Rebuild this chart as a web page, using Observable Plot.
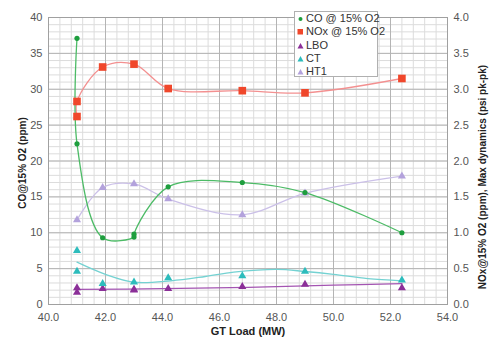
<!DOCTYPE html>
<html>
<head>
<meta charset="utf-8">
<script src="https://cdn.jsdelivr.net/npm/d3@7"></script>
<script src="https://cdn.jsdelivr.net/npm/@observablehq/plot@0.6"></script>
<style>
  html, body { margin: 0; padding: 0; background: #fff; }
  #wrap { position: relative; width: 489px; height: 341px; font-family: "Liberation Sans", Arial, sans-serif; }
  #legend { position: absolute; left: 294px; top: 11px; width: 84px; height: 66px; background: #fff;
            border: 1px solid #b0b0b0; box-sizing: border-box; font-size: 11px; color: #333; }
  #legend .item { position: absolute; left: 2px; height: 13px; line-height: 13px; white-space: nowrap; }
  #legend svg { vertical-align: middle; margin-right: 2px; }
</style>
</head>
<body>
<div id="wrap"></div>
<script>
// ---- data ----
const coX   = [41.0, 41.0, 41.9, 43.0, 43.0, 44.2, 46.8, 49.0, 52.4];
const coY   = [37.1, 22.4, 9.3, 9.4, 9.8, 16.4, 17.0, 15.6, 10.0];          // ppm (left axis)

const noxX  = [41.0, 41.0, 41.9, 43.0, 44.2, 46.8, 49.0, 52.4];
const noxY  = [2.62, 2.83, 3.31, 3.35, 3.01, 2.98, 2.95, 3.15];              // right axis units

const ht1X  = [41.0, 41.9, 43.0, 44.2, 46.8, 49.0, 52.4];
const ht1Y  = [1.18, 1.63, 1.68, 1.47, 1.25, 1.55, 1.79];

const ctX   = [41.0, 41.0, 41.9, 43.0, 44.2, 46.8, 49.0, 52.4];
const ctY   = [0.75, 0.46, 0.29, 0.31, 0.37, 0.40, 0.46, 0.34];
const ctTrendX = [41.0, 42.0, 43.0, 44.3, 45.5, 46.5, 48.0, 49.0, 50.0, 51.2, 52.4];
const ctTrendY = [0.59, 0.42, 0.31, 0.33, 0.39, 0.45, 0.49, 0.46, 0.42, 0.36, 0.33];

const lboX  = [41.0, 41.0, 41.9, 43.0, 43.0, 44.2, 46.8, 49.0, 52.4];
const lboY  = [0.23, 0.17, 0.22, 0.21, 0.20, 0.22, 0.25, 0.28, 0.23];
const lboTrendX = [41.0, 44.0, 47.0, 50.0, 52.4];
const lboTrendY = [0.21, 0.22, 0.24, 0.27, 0.29];

const xTicks = [40, 42, 44, 46, 48, 50, 52, 54];
const leftTicks = [0, 5, 10, 15, 20, 25, 30, 35, 40];
const rightTicks = [0, 0.5, 1.0, 1.5, 2.0, 2.5, 3.0, 3.5, 4.0];

const seriesNames = ["CO @ 15% O2", "NOx @ 15% O2", "LBO", "CT", "HT1"];
const colors = {
  co: "#1e9e3e", coLine: "#4cbb66",
  nox: "#f0472b", noxLine: "#f39090",
  lbo: "#8b2f98", lboLine: "#a455b2",
  ct: "#2dbcbc", ctLine: "#74d2d2",
  ht1: "#b3a2dc", ht1Line: "#cbc0e8"
};

// build tables
const pts = (xs, ys) => xs.map((x, i) => ({x, y: ys[i]}));
const co = pts(coX, coY), nox = pts(noxX, noxY), ht1 = pts(ht1X, ht1Y),
      ct = pts(ctX, ctY), ctT = pts(ctTrendX, ctTrendY),
      lbo = pts(lboX, lboY), lboT = pts(lboTrendX, lboTrendY);
const R = 10; // right axis (0-4) mapped onto left axis (0-40)
const yR = d => d.y * R;

const minorX = d3.range(40, 54.001, 0.4);
const minorY = d3.range(0, 40.001, 1);

const chart = Plot.plot({
  width: 489, height: 341,
  marginLeft: 48, marginRight: 42, marginTop: 17, marginBottom: 37,
  style: { fontFamily: "Liberation Sans, Arial, sans-serif", fontSize: "11px", color: "#555", background: "transparent" },
  x: { domain: [40, 54] },
  y: { domain: [0, 40] },
  marks: [
    Plot.gridX(minorX, { stroke: "#dcdcdc", strokeOpacity: 1 }),
    Plot.gridY(minorY, { stroke: "#dcdcdc", strokeOpacity: 1 }),
    Plot.gridX(xTicks, { stroke: "#b4b4b4", strokeOpacity: 1 }),
    Plot.gridY(leftTicks, { stroke: "#b4b4b4", strokeOpacity: 1 }),
    Plot.frame({ stroke: "#a0a0a0" }),
    Plot.axisX({ ticks: xTicks, tickSize: 0, tickPadding: 9, tickFormat: d => d.toFixed(1), label: null }),
    Plot.axisY({ anchor: "left", ticks: leftTicks, tickSize: 0, tickPadding: 6, label: null }),
    Plot.axisY({ anchor: "right", ticks: rightTicks.map(t => t * R), tickSize: 0, tickPadding: 6,
                 tickFormat: d => (d / R).toFixed(1), label: null }),
    // lines
    Plot.line(lboT, { x: "x", y: yR, curve: "catmull-rom", stroke: colors.lboLine, strokeWidth: 1.3 }),
    Plot.line(ctT,  { x: "x", y: yR, curve: "catmull-rom", stroke: colors.ctLine, strokeWidth: 1.3 }),
    Plot.line(ht1,  { x: "x", y: yR, curve: "catmull-rom", stroke: colors.ht1Line, strokeWidth: 1.3 }),
    Plot.line(nox,  { x: "x", y: yR, curve: "catmull-rom", stroke: colors.noxLine, strokeWidth: 1.3 }),
    Plot.line(co,   { x: "x", y: "y", curve: "catmull-rom", stroke: colors.coLine, strokeWidth: 1.3 }),
    // markers
    Plot.dot(lbo, { x: "x", y: yR, symbol: "triangle", r: 3, fill: colors.lbo }),
    Plot.dot(ct,  { x: "x", y: yR, symbol: "triangle", r: 3, fill: colors.ct }),
    Plot.dot(ht1, { x: "x", y: yR, symbol: "triangle", r: 3, fill: colors.ht1 }),
    Plot.dot(nox, { x: "x", y: yR, symbol: "square", r: 4.3, fill: colors.nox }),
    Plot.dot(co,  { x: "x", y: "y", symbol: "circle", r: 2.6, fill: colors.co }),
    // axis titles
    Plot.text(["GT Load (MW)"], { frameAnchor: "bottom", dy: 30, fontWeight: "bold", fontSize: 11, fill: "#222" }),
    Plot.text(["CO@15% O2 (ppm)"], { frameAnchor: "left", textAnchor: "middle", dx: -26, dy: 2, rotate: -90,
                                     fontWeight: "bold", fontSize: 10, fill: "#222" }),
    Plot.text(["NOx@15% O2 (ppm), Max dynamics (psi pk-pk)"], { frameAnchor: "right", textAnchor: "middle", dx: 35, dy: 16,
                                     rotate: -90, fontWeight: "bold", fontSize: 10, fill: "#222" })
  ]
});

const wrap = document.getElementById("wrap");
wrap.appendChild(chart);

// legend overlay
const legend = document.createElement("div");
legend.id = "legend";
const symbols = [
  { shape: "circle", color: colors.co },
  { shape: "square", color: colors.nox },
  { shape: "triangle", color: colors.lbo },
  { shape: "triangle", color: colors.ct },
  { shape: "triangle", color: colors.ht1 }
];
seriesNames.forEach((name, i) => {
  const item = document.createElement("div");
  item.className = "item";
  item.style.top = (0 + i * 13.3) + "px";
  const s = symbols[i];
  let shape;
  if (s.shape === "circle") shape = `<circle cx="3.5" cy="4" r="2" fill="${s.color}"/>`;
  else if (s.shape === "square") shape = `<rect x="0.5" y="1" width="5.5" height="5.5" fill="${s.color}"/>`;
  else shape = `<path d="M3.5,1 L6.5,6.5 L0.5,6.5 Z" fill="${s.color}"/>`;
  item.innerHTML = `<svg width="7" height="8">${shape}</svg>${name}`;
  legend.appendChild(item);
});
wrap.appendChild(legend);
</script>
</body>
</html>
